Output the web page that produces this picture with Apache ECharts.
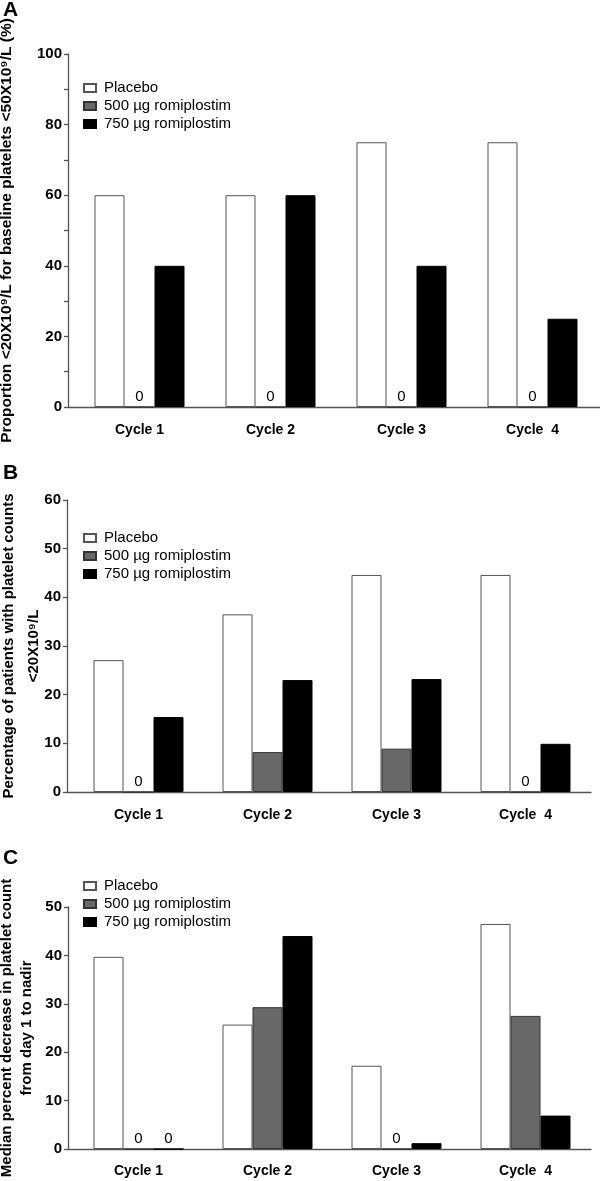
<!DOCTYPE html>
<html>
<head>
<meta charset="utf-8">
<script src="https://cdn.jsdelivr.net/npm/echarts@6/dist/echarts.min.js"></script>
<style>
html,body{margin:0;padding:0;background:#fff;}
#chart{width:600px;height:1181px;}
</style>
</head>
<body>
<div id="chart"></div>
<script>
// ---- data ----
const cycles = ['Cycle 1', 'Cycle 2', 'Cycle 3', 'Cycle  4'];
const seriesNames = ['Placebo', '500 \u00b5g romiplostim', '750 \u00b5g romiplostim'];

const panelA_placebo = [60, 60, 75, 75];
const panelA_500 = [0, 0, 0, 0];
const panelA_750 = [40, 60, 40, 25];

const panelB_placebo = [27.1, 36.5, 44.6, 44.6];
const panelB_500 = [0, 8.2, 8.9, 0];
const panelB_750 = [15.4, 23.0, 23.2, 9.9];

const panelC_placebo = [39.7, 25.7, 17.2, 46.5];
const panelC_500 = [0, 29.3, 0, 27.5];
const panelC_750 = [0, 44.0, 1.2, 6.9];

const titleA = 'Proportion <20X10\u2079/L for baseline platelets <50X10\u2079/L (%)';
const titleB = 'Percentage of patients with platelet counts\n<20X10\u2079/L';
const titleC = 'Median percent decrease in platelet count\nfrom day 1 to nadir';

// ---- styling ----
const FONT = "'Liberation Sans', Arial, Helvetica, sans-serif";
const AXIS_COLOR = '#555';
const barStyles = [
  { color: '#ffffff', borderColor: '#555', borderWidth: 1 },
  { color: '#686868', borderColor: '#333', borderWidth: 1 },
  { color: '#000000', borderColor: '#000', borderWidth: 1 }
];

const panels = [
  { data: [panelA_placebo, panelA_500, panelA_750], max: 100, interval: 20, minor: true,
    top: 54, height: 353, catLeft: 74, catRight: 2, axLeft: 68, axRight: 0,
    name: titleA, nameGap: 52, nameLH: 18, nameSize: 15.5, legendTop: 79, labelMargin: 16 },
  { data: [panelB_placebo, panelB_500, panelB_750], max: 60, interval: 10, minor: false,
    top: 500, height: 292, catLeft: 74, catRight: 10, axLeft: 67, axRight: 9,
    name: titleB, nameGap: 21, nameLH: 25, nameSize: 15, legendTop: 529, labelMargin: 16 },
  { data: [panelC_placebo, panelC_500, panelC_750], max: 50, interval: 10, minor: false,
    top: 907, height: 242, catLeft: 74, catRight: 10, axLeft: 68, axRight: 9,
    name: titleC, nameGap: 31, nameLH: 20, nameSize: 15, legendTop: 877, labelMargin: 15 }
];

const grid = [], xAxis = [], yAxis = [], series = [], legend = [];
panels.forEach((p, i) => {
  const gCat = i * 2, gAx = i * 2 + 1;
  grid.push({ left: p.catLeft, right: p.catRight, top: p.top, height: p.height, containLabel: false, outerBoundsMode: 'none' });
  grid.push({ left: p.axLeft, right: p.axRight, top: p.top, height: p.height, containLabel: false, outerBoundsMode: 'none' });
  // category axis (labels only)
  xAxis.push({
    type: 'category', gridIndex: gCat, data: cycles,
    axisLine: { show: false }, axisTick: { show: false },
    axisLabel: { color: '#000', fontFamily: FONT, fontWeight: 'bold', fontSize: 14, margin: p.labelMargin }
  });
  // visible baseline
  xAxis.push({
    type: 'value', gridIndex: gAx, min: 0, max: 1,
    axisLine: { show: true, onZero: false, lineStyle: { color: AXIS_COLOR, width: 1.3 } },
    axisTick: { show: false }, axisLabel: { show: false }, splitLine: { show: false }
  });
  yAxis.push({ type: 'value', gridIndex: gCat, min: 0, max: p.max, interval: p.interval, show: false, splitLine: { show: false } });
  yAxis.push({
    type: 'value', gridIndex: gAx, min: 0, max: p.max, interval: p.interval,
    name: p.name, nameLocation: 'middle', nameGap: p.nameGap, nameRotate: 90, nameMoveOverlap: false,
    nameTextStyle: { color: '#000', fontFamily: FONT, fontWeight: 'bold', fontSize: p.nameSize, lineHeight: p.nameLH, align: 'center' },
    axisLine: { show: true, lineStyle: { color: AXIS_COLOR, width: 1.3 } },
    axisTick: { show: true, length: 4, lineStyle: { color: AXIS_COLOR, width: 1.3 } },
    minorTick: { show: p.minor, splitNumber: 2, length: 4, lineStyle: { color: AXIS_COLOR, width: 1.3 } },
    axisLabel: { color: '#000', fontFamily: FONT, fontWeight: 'bold', fontSize: 15, margin: 6 },
    splitLine: { show: false }
  });
  p.data.forEach((arr, k) => {
    series.push({
      type: 'bar', name: seriesNames[k], xAxisIndex: gCat, yAxisIndex: gCat,
      data: arr, barWidth: 30, barGap: '0%',
      itemStyle: barStyles[k],
      label: {
        show: true, position: 'top', distance: 2,
        color: '#000', fontFamily: FONT, fontSize: 15,
        formatter: (prm) => (prm.value === 0 ? '0' : '')
      },
      emphasis: { disabled: true },
      animation: false
    });
  });
  legend.push({
    orient: 'vertical', left: 83, top: p.legendTop, padding: 0, itemGap: 0,
    itemWidth: 12, itemHeight: 8, icon: 'rect', selectedMode: false,
    data: seriesNames,
    textStyle: { color: '#000', fontFamily: FONT, fontSize: 15, lineHeight: 18, padding: [0, 0, 0, 3] }
  });
});

const option = {
  backgroundColor: '#fff',
  animation: false,
  title: [
    { text: 'A', left: 3, top: 0, padding: 0, textStyle: { fontFamily: FONT, fontWeight: 'bold', fontSize: 21, color: '#000' } },
    { text: 'B', left: 3, top: 463, padding: 0, textStyle: { fontFamily: FONT, fontWeight: 'bold', fontSize: 21, color: '#000' } },
    { text: 'C', left: 3, top: 848, padding: 0, textStyle: { fontFamily: FONT, fontWeight: 'bold', fontSize: 21, color: '#000' } }
  ],
  grid, xAxis, yAxis, series, legend
};

const chart = echarts.init(document.getElementById('chart'), null, { renderer: 'canvas' });
chart.setOption(option);
</script>
</body>
</html>
